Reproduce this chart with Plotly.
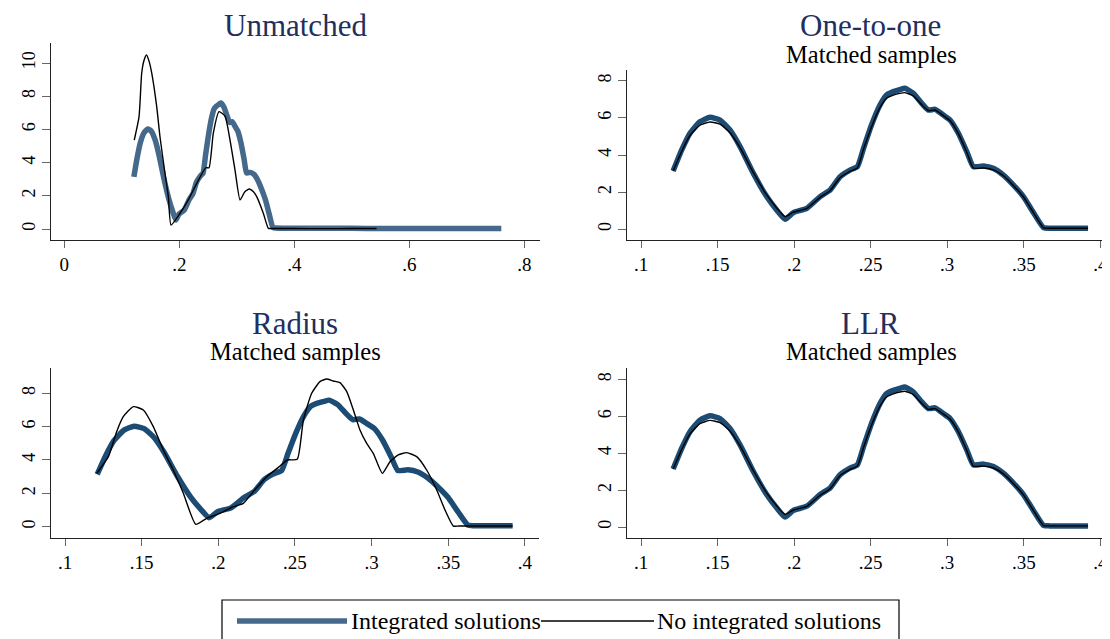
import plotly.graph_objects as go

# ---------------- data ----------------
# Integrated solutions (treated group density) - same in every panel
treat_x = [0.121, 0.1266, 0.132, 0.1385, 0.1451, 0.1516, 0.1581, 0.1647, 0.1734, 0.1821,
           0.1886, 0.1941, 0.1995, 0.2083, 0.2170, 0.2235, 0.2300, 0.2365, 0.2413, 0.2455,
           0.2505, 0.2561, 0.2604, 0.2648, 0.2690, 0.2724, 0.2779, 0.2834, 0.2877, 0.2921,
           0.2975, 0.3019, 0.3073, 0.3128, 0.3171, 0.3237, 0.3302, 0.3367, 0.3433, 0.3498,
           0.3563, 0.3629, 0.367, 0.380, 0.392]
treat_y = [3.14, 4.27, 5.17, 5.79, 6.03, 5.88, 5.35, 4.45, 3.01, 1.76,
           1.04, 0.54, 0.90, 1.13, 1.76, 2.12, 2.83, 3.19, 3.37, 4.40,
           5.60, 6.69, 7.23, 7.41, 7.52, 7.59, 7.32, 6.78, 6.42, 6.46,
           6.15, 5.88, 5.17, 4.18, 3.37, 3.41, 3.28, 2.92, 2.38, 1.76,
           0.90, 0.09, 0.06, 0.05, 0.05]

# Unmatched: treated density continues as a flat tail
unm_tail_x = [0.42, 0.46, 0.50, 0.55, 0.60, 0.65, 0.70, 0.76]
unm_tail_y = [0.05, 0.04, 0.04, 0.03, 0.03, 0.03, 0.03, 0.03]

# Unmatched: no integrated solutions
unm_ctrl_x = [0.1217, 0.130, 0.1346, 0.1386, 0.143, 0.1475, 0.152, 0.1607, 0.1664, 0.1751,
              0.1809, 0.1856, 0.2013, 0.2157, 0.2303, 0.2459, 0.2517, 0.2591, 0.2690, 0.2795,
              0.2882, 0.2969, 0.3056, 0.3140, 0.3217, 0.3290, 0.3346, 0.3461, 0.3548, 0.360,
              0.40, 0.45, 0.50, 0.543]
unm_ctrl_y = [5.36, 6.77, 9.38, 10.15, 10.48, 10.10, 9.40, 7.37, 5.56, 3.35,
              1.95, 0.24, 0.95, 1.75, 2.75, 3.69, 3.69, 5.76, 7.07, 6.80,
              5.36, 3.55, 1.75, 2.25, 2.41, 2.25, 1.95, 0.95, 0.04, 0.03,
              0.03, 0.02, 0.03, 0.03]

# One-to-one / LLR: no integrated solutions
m_ctrl_y = [3.14, 4.20, 5.05, 5.60, 5.78, 5.66, 5.20, 4.40, 3.05, 1.85,
            1.15, 0.68, 0.92, 1.12, 1.72, 2.08, 2.78, 3.12, 3.30, 4.35,
            5.50, 6.55, 7.05, 7.22, 7.32, 7.36, 7.18, 6.70, 6.38, 6.42,
            6.12, 5.84, 5.15, 4.15, 3.30, 3.30, 3.20, 2.88, 2.35, 1.74,
            0.90, 0.08, 0.06, 0.06, 0.06]

# Radius: no integrated solutions
rad_ctrl_x = [0.1207, 0.1283, 0.1337, 0.1380, 0.1446, 0.1511, 0.1576, 0.1641, 0.1706, 0.1772,
              0.1853, 0.1924, 0.2011, 0.2098, 0.2163, 0.2228, 0.2316, 0.2403, 0.2450, 0.2515,
              0.2555, 0.2609, 0.2663, 0.2707, 0.2750, 0.2794, 0.2838, 0.2881, 0.2924, 0.2968,
              0.3011, 0.3070, 0.3120, 0.3174, 0.3229, 0.3294, 0.3359, 0.3425, 0.3479, 0.3533,
              0.3570, 0.3650, 0.392]
rad_ctrl_y = [3.20, 4.20, 5.70, 6.60, 7.20, 7.00, 6.00, 4.60, 3.40, 2.00,
              0.14, 0.50, 0.80, 1.20, 1.40, 2.10, 3.00, 3.64, 4.00, 4.04,
              6.40, 8.00, 8.70, 8.86, 8.74, 8.64, 8.10, 7.00, 5.80, 5.00,
              4.40, 3.20, 3.90, 4.30, 4.44, 4.20, 3.40, 2.20, 1.00, 0.04,
              0.04, 0.04, 0.04]

panel_titles = ["Unmatched", "One-to-one", "Radius", "LLR"]
subtitle = "Matched samples"
legend_labels = ["Integrated solutions", "No integrated solutions"]

unm_xticks = [0, 0.2, 0.4, 0.6, 0.8]
unm_xlabels = ["0", ".2", ".4", ".6", ".8"]
unm_yticks = [0, 2, 4, 6, 8, 10]
m_xticks = [0.1, 0.15, 0.2, 0.25, 0.3, 0.35, 0.4]
m_xlabels = [".1", ".15", ".2", ".25", ".3", ".35", ".4"]
m_yticks = [0, 2, 4, 6, 8]

# ---------------- style ----------------
OFF = 8                      # page body margin of the browser
W, H = 1110 - OFF, 639 - OFF
FONT = "Liberation Serif, Times New Roman, DejaVu Serif, serif"
C_UNM = "#45698a"
C_M = "#1c4b73"
TITLE_C = "#1f2f5e"

def px(v):
    return (v - OFF) / W

def py(v):
    return 1 - (v - OFF) / H

fig = go.Figure()

def add_pair(ax, tx, ty, cx, cy, color):
    fig.add_trace(go.Scatter(x=tx, y=ty, mode="lines", xaxis="x" + ax, yaxis="y" + ax,
                             line=dict(color=color, width=5.5, shape="spline", smoothing=0.5),
                             showlegend=False, hoverinfo="skip"))
    fig.add_trace(go.Scatter(x=cx, y=cy, mode="lines", xaxis="x" + ax, yaxis="y" + ax,
                             line=dict(color="black", width=1.4, shape="spline", smoothing=0.5),
                             showlegend=False, hoverinfo="skip"))

add_pair("", treat_x + unm_tail_x, treat_y + unm_tail_y, unm_ctrl_x, unm_ctrl_y, C_UNM)
add_pair("2", treat_x, treat_y, treat_x, m_ctrl_y, C_M)
add_pair("3", treat_x, treat_y, rad_ctrl_x, rad_ctrl_y, C_M)
add_pair("4", treat_x, treat_y, treat_x, m_ctrl_y, C_M)

def xax(dom, rng, ticks, labels, anchor):
    return dict(domain=dom, range=rng, tickvals=ticks, ticktext=labels, anchor=anchor,
                showgrid=False, zeroline=False, showline=True, linecolor="#222", linewidth=1,
                ticks="outside", ticklen=7, tickcolor="#666", tickwidth=1,
                tickfont=dict(family=FONT, size=19, color="black"))

def yax(dom, rng, ticks, anchor):
    return dict(domain=dom, range=rng, tickvals=ticks, anchor=anchor, tickangle=-90,
                showgrid=False, zeroline=False, showline=True, linecolor="#222", linewidth=1,
                ticks="outside", ticklen=8, tickcolor="#666", tickwidth=1,
                tickfont=dict(family=FONT, size=18, color="black"))

top_dom_unm = [py(240), py(43)]
top_dom_m = [py(240), py(70)]
bot_dom = [py(538.3), py(368.3)]
left_dom = [px(50.7), px(540)]
right_dom = [px(627.3), 1.0]

fig.update_layout(
    width=W, height=H, margin=dict(l=0, r=0, t=0, b=0),
    paper_bgcolor="white", plot_bgcolor="white", showlegend=False,
    xaxis=xax(left_dom, [-0.02365, 0.8273], unm_xticks, unm_xlabels, "y"),
    yaxis=yax(top_dom_unm, [-0.6627, 11.205], unm_yticks, "x"),
    xaxis2=xax(right_dom, [0.09105, 0.40634], m_xticks, m_xlabels, "y2"),
    yaxis2=yax(top_dom_m, [-0.576, 8.576], m_yticks, "x2"),
    xaxis3=xax([px(50.7), px(539)], [0.09067, 0.4092], m_xticks, m_xlabels, "y3"),
    yaxis3=yax(bot_dom, [-0.696, 9.499], m_yticks, "x3"),
    xaxis4=xax(right_dom, [0.09105, 0.40634], m_xticks, m_xlabels, "y4"),
    yaxis4=yax(bot_dom, [-0.613, 8.606], m_yticks, "x4"),
)

ann = []
title_pos = [(295, 25), (870, 25), (295, 323), (870, 323)]
for t, (xx, yy) in zip(panel_titles, title_pos):
    ann.append(dict(text=t, x=px(xx), y=py(yy), xref="paper", yref="paper",
                    xanchor="center", yanchor="middle", showarrow=False,
                    font=dict(family=FONT, size=31, color=TITLE_C)))
for xx, yy in [(871, 54), (295, 351), (871, 351)]:
    ann.append(dict(text=subtitle, x=px(xx), y=py(yy), xref="paper", yref="paper",
                    xanchor="center", yanchor="middle", showarrow=False,
                    font=dict(family=FONT, size=24.5, color="black")))
# legend (drawn as a box with sample lines)
ann.append(dict(text=legend_labels[0], x=px(349), y=py(621), xref="paper", yref="paper",
                xanchor="left", yanchor="middle", showarrow=False,
                font=dict(family=FONT, size=24, color="black")))
ann.append(dict(text=legend_labels[1], x=px(655), y=py(621), xref="paper", yref="paper",
                xanchor="left", yanchor="middle", showarrow=False,
                font=dict(family=FONT, size=24, color="black")))
fig.update_layout(annotations=ann)

shapes = [
    dict(type="rect", xref="paper", yref="paper", x0=px(222), x1=px(899), y0=py(660), y1=py(600),
         line=dict(color="black", width=1.2), fillcolor="rgba(0,0,0,0)"),
    dict(type="line", xref="paper", yref="paper", x0=px(237), x1=px(347), y0=py(621), y1=py(621),
         line=dict(color=C_UNM, width=5.5)),
    dict(type="line", xref="paper", yref="paper", x0=px(541), x1=px(654), y0=py(621), y1=py(621),
         line=dict(color="black", width=1.5)),
]
fig.update_layout(shapes=shapes)

fig.write_html("out.html")
